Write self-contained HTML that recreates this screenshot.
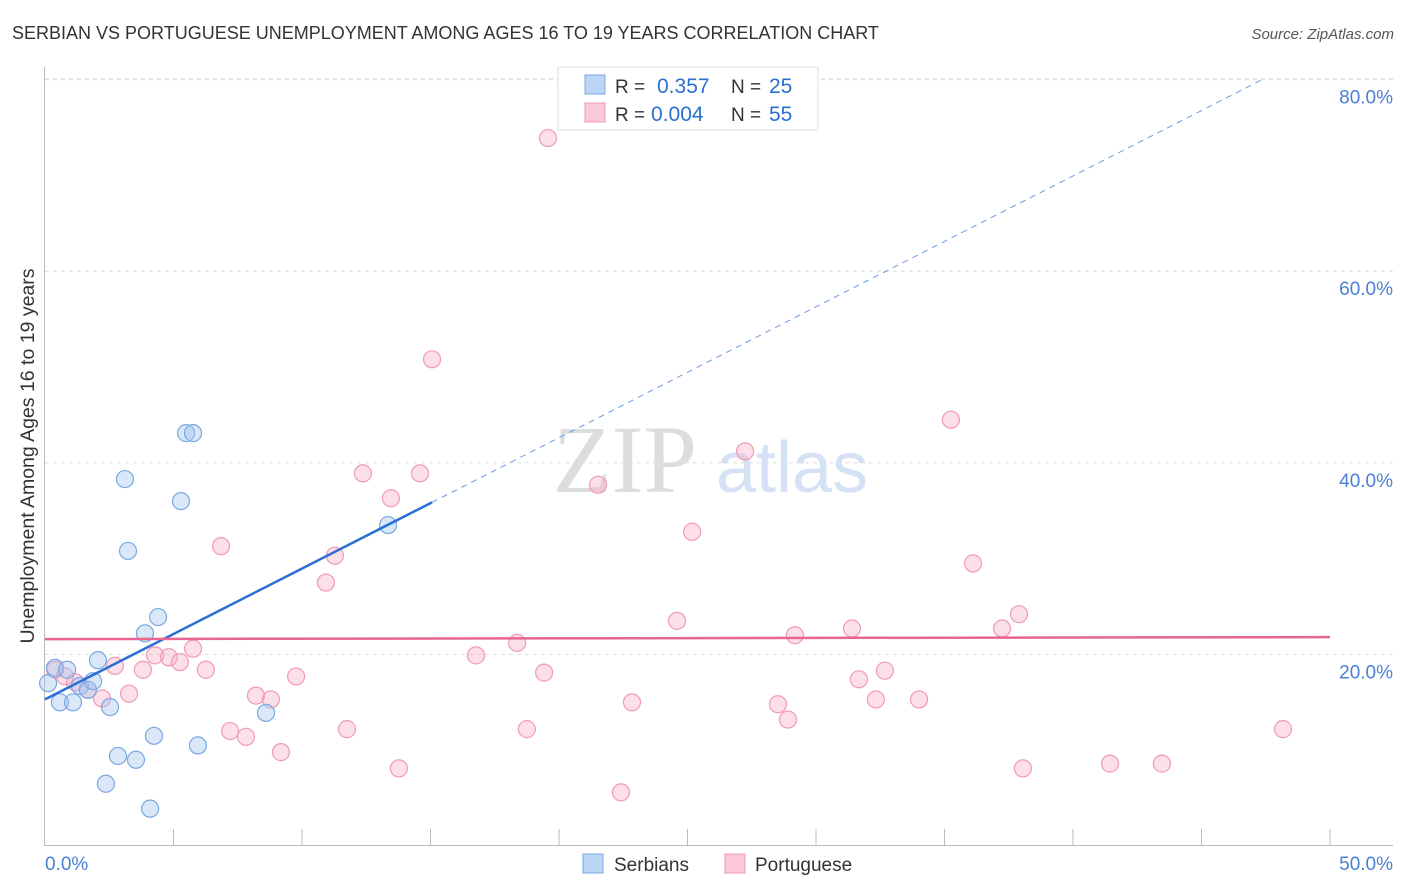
<!DOCTYPE html>
<html><head><meta charset="utf-8">
<style>
body{margin:0;background:#fff;font-family:"Liberation Sans",sans-serif;}
#wrap{position:relative;width:1406px;height:892px;overflow:hidden;}
</style></head>
<body>
<div id="wrap">
<svg id="svg" width="1406" height="892"></svg>
</div>
<script>
const serbX=[0.39,0.86,0.12,0.58,1.09,1.36,1.67,1.87,2.06,2.53,2.37,2.84,3.54,4.09,4.24,3.11,3.23,3.89,4.40,5.29,5.49,5.76,5.95,8.60,13.35];
const serbY=[18.6,18.4,17.0,15.0,15.0,16.7,16.3,17.2,19.4,14.5,6.5,9.4,9.0,3.9,11.5,38.3,30.8,22.2,23.9,36.0,43.1,43.1,10.5,13.9,33.5];
const portX=[19.57,15.06,35.25,27.24,12.37,14.59,21.52,13.46,25.18,6.85,11.28,36.11,10.93,37.90,24.59,37.24,31.40,29.18,18.37,5.76,4.82,4.28,5.25,2.72,3.81,6.26,0.39,0.78,1.17,9.77,32.68,19.42,16.77,31.67,1.67,2.22,3.27,8.21,8.79,22.84,32.33,34.01,28.52,28.91,7.20,7.82,11.75,18.75,48.17,9.18,13.77,38.05,41.44,43.46,22.41];
const portY=[73.9,50.8,44.5,41.2,38.9,38.9,37.7,36.3,32.8,31.3,30.3,29.5,27.5,24.2,23.5,22.7,22.7,22.0,21.2,20.6,19.7,19.9,19.2,18.8,18.4,18.4,18.4,17.7,17.1,17.7,18.3,18.1,19.9,17.4,16.3,15.4,15.9,15.7,15.3,15.0,15.3,15.3,14.8,13.2,12.0,11.4,12.2,12.2,12.2,9.8,8.1,8.1,8.6,8.6,5.6];
const yTicks=[20,40,60,80];
const yTickLabels=["20.0%","40.0%","60.0%","80.0%"];
const serbTrend=[15.3,1.366];
const portTrend=[21.6,0.004];

const svg=document.getElementById('svg');
const NS='http://www.w3.org/2000/svg';
const X=v=>45+v*25.7, Y=v=>846-v*9.58;
function mk(t,a,txt){const e=document.createElementNS(NS,t);for(const k in a)e.setAttribute(k,a[k]);if(txt!==undefined)e.textContent=txt;svg.appendChild(e);return e;}

let e;
e=mk('text',{x:12,y:39,'font-size':18,fill:'#333'},'SERBIAN VS PORTUGUESE UNEMPLOYMENT AMONG AGES 16 TO 19 YEARS CORRELATION CHART');

e=mk('text',{x:1394,y:39,'font-size':15,fill:'#555','font-style':'italic','text-anchor':'end'},'Source: ZipAtlas.com');


e=mk('line',{x1:45,y1:79,x2:1393,y2:79,stroke:'#ddd','stroke-dasharray':'4,4'});

yTicks.forEach((t,i)=>{
 e=mk('line',{x1:45,y1:Y(t),x2:1393,y2:Y(t),stroke:'#ddd','stroke-dasharray':'4,4'});
 
 e=mk('text',{x:1393,y:Y(t)+24,'font-size':19,fill:'#4a7fd4','text-anchor':'end'},yTickLabels[i]);
 
});
e=mk('line',{x1:44.5,y1:67,x2:44.5,y2:846,stroke:'#bbb'});

e=mk('line',{x1:45,y1:845.5,x2:1393,y2:845.5,stroke:'#bbb'});

for(let i=1;i<=10;i++){e=mk('line',{x1:X(i*5),y1:829,x2:X(i*5),y2:846,stroke:'#bbb'});
 }
e=mk('text',{x:45,y:870,'font-size':19,fill:'#4a7fd4'},'0.0%');

e=mk('text',{x:1393,y:870,'font-size':19,fill:'#4a7fd4','text-anchor':'end'},'50.0%');

e=mk('text',{x:34,y:456,'font-size':19.5,fill:'#333','text-anchor':'middle',transform:'rotate(-90 34 456)'},'Unemployment Among Ages 16 to 19 years');


e=mk('text',{x:553,y:492,'font-size':96,fill:'#ddd','font-family':'Liberation Serif,serif'},'ZIP');

e=mk('text',{x:716,y:492,'font-size':72,fill:'#d5e2f5'},'atlas');


portX.forEach((v,i)=>{e=mk('circle',{cx:X(v),cy:Y(portY[i]),r:8.5,fill:'rgba(248,176,200,0.4)',stroke:'#f09ab6','stroke-width':1.2});
 });
serbX.forEach((v,i)=>{e=mk('circle',{cx:X(v),cy:Y(serbY[i]),r:8.5,fill:'rgba(160,196,240,0.4)',stroke:'#7aa8e0','stroke-width':1.2});
 });

const sEnd=15.06, sMax=(80-serbTrend[0])/serbTrend[1];
e=mk('line',{x1:X(0),y1:Y(serbTrend[0]),x2:X(sEnd),y2:Y(serbTrend[0]+serbTrend[1]*sEnd),stroke:'#2a6fd4','stroke-width':2.5});

e=mk('line',{x1:X(sEnd),y1:Y(serbTrend[0]+serbTrend[1]*sEnd),x2:X(sMax),y2:Y(80),stroke:'#6a9be0','stroke-width':1,'stroke-dasharray':'6,5'});

e=mk('line',{x1:X(0),y1:Y(portTrend[0]),x2:X(50),y2:Y(portTrend[0]+portTrend[1]*50),stroke:'#e8658f','stroke-width':2.5});


e=mk('rect',{x:558,y:67,width:260,height:63,fill:'#fff',stroke:'#ddd'});

e=mk('rect',{x:585,y:75,width:20,height:19,fill:'#bcd4f5',stroke:'#7aa8e0'});

e=mk('rect',{x:585,y:103,width:20,height:19,fill:'#fbc8d8',stroke:'#f09ab6'});

[[93,'0.357','25'],[121,'0.004','55']].forEach((r,i)=>{
 e=mk('text',{x:615,y:r[0],'font-size':19,fill:'#333'},'R = ');
 
 e=mk('text',{x:i?651:657,y:r[0],'font-size':21,fill:'#2a6fd4'},r[1]);
 
 e=mk('text',{x:731,y:r[0],'font-size':19,fill:'#333'},'N = ');
 
 e=mk('text',{x:769,y:r[0],'font-size':21,fill:'#2a6fd4'},r[2]);
 
});
e=mk('rect',{x:583,y:854,width:20,height:19,fill:'#bcd4f5',stroke:'#7aa8e0'});

e=mk('text',{x:614,y:871,'font-size':19,fill:'#333'},'Serbians');

e=mk('rect',{x:725,y:854,width:20,height:19,fill:'#fbc8d8',stroke:'#f09ab6'});

e=mk('text',{x:755,y:871,'font-size':19,fill:'#333'},'Portuguese');

</script>
</body></html>
